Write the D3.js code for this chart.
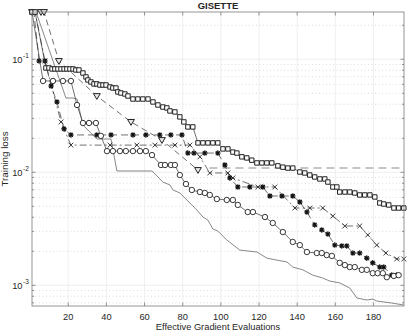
<!DOCTYPE html>
<html>
<head>
<meta charset="utf-8">
<script src="https://cdn.jsdelivr.net/npm/d3@7"></script>
<style>
  body { margin: 0; background: #fff; }
  text { font-family: "Liberation Sans", Arial, sans-serif; fill: #262626; }
</style>
</head>
<body>
<div id="chart"></div>
<script>
// ---- data ----
let xTicks = [20, 40, 60, 80, 100, 120, 140, 160, 180];
let yDecades = [-3, -2, -1];

// squares, solid line
let sqX = [1, 2.6, 8.3, 9.9, 11.5, 13, 14.6, 16.2, 17.8, 19.3, 20.9, 22.5, 24, 25.6, 27.7, 29.3, 30.3, 31.9, 33.5, 35, 36.6, 38.2, 39.8, 41.9, 43.4, 45, 46, 47.6, 49.7, 51.3, 53.9, 56.5, 59.1, 61.8, 64.4, 67, 69.6, 71.7, 73.3, 75.9, 78.5, 80.6, 82.7, 85.3, 88, 90.6, 93.2, 95.8, 98.4, 101.1, 103.7, 106.3, 108.4, 111, 113.6, 116.2, 118.9, 121.5, 124.1, 126.7, 129.9, 132.5, 135.1, 137.7, 141.4, 144, 146.6, 149.2, 151.9, 154.5, 156.1, 158.7, 160.8, 162.3, 165, 167.6, 170.2, 172.8, 175.4, 178.1, 180.7, 183.3, 185.4, 188, 190.7, 193.2, 195.9];
let sqY = [0.262, 0.262, 0.0838, 0.0838, 0.0821, 0.0821, 0.0821, 0.0821, 0.0821, 0.0821, 0.0821, 0.0821, 0.0804, 0.0804, 0.0756, 0.0697, 0.0656, 0.063, 0.0605, 0.0605, 0.0592, 0.0592, 0.0592, 0.0569, 0.0557, 0.0557, 0.0514, 0.0503, 0.0493, 0.0473, 0.0445, 0.0445, 0.0445, 0.0445, 0.0419, 0.0394, 0.0378, 0.0371, 0.0349, 0.0342, 0.0309, 0.0279, 0.0252, 0.0252, 0.0182, 0.0182, 0.0182, 0.0182, 0.0182, 0.0161, 0.0161, 0.0151, 0.0148, 0.0137, 0.0134, 0.0128, 0.0121, 0.0121, 0.0121, 0.0121, 0.0114, 0.0111, 0.0109, 0.0109, 0.01006, 0.00986, 0.00946, 0.00909, 0.00873, 0.00873, 0.0082, 0.00741, 0.00741, 0.00669, 0.00669, 0.00669, 0.00656, 0.0063, 0.0063, 0.0063, 0.00605, 0.00535, 0.00524, 0.00514, 0.00483, 0.00483, 0.00483];

// inverted triangles, dashed line
let triX = [1, 5.7, 7.3, 15.1, 35, 52.9, 69.1, 88];
let triY = [0.262, 0.262, 0.262, 0.0966, 0.0473, 0.0279, 0.0193, 0.01048];

// grey dashed reference level
let refX = [94, 195.9];
let refY = [0.0109, 0.0109];

// circles, solid line
let cirX = [1, 6.8, 12, 17.2, 21.4, 24.6, 27.7, 30.9, 34.5, 37.1, 40.3, 43.4, 47.1, 50.2, 53.9, 57.6, 60.7, 63.9, 68.6, 70.7, 73.8, 75.9, 78.5, 81.7, 84.8, 89, 91.6, 94.2, 97.9, 103.1, 106.3, 108.9, 114.1, 116.8, 123.1, 127.2, 132.5, 137.7, 141.4, 145.1, 150.3, 152.9, 155.5, 158.2, 162.3, 165, 167.6, 170.2, 173.9, 176.5, 179.6, 182.2, 184.9, 187, 190.7, 193.2];
let cirY = [0.262, 0.0643, 0.0643, 0.0643, 0.0643, 0.0394, 0.0273, 0.0273, 0.0273, 0.021, 0.0154, 0.0154, 0.0154, 0.0154, 0.0154, 0.0154, 0.0154, 0.0142, 0.0116, 0.0116, 0.0116, 0.0116, 0.00946, 0.00788, 0.00697, 0.00669, 0.00656, 0.0063, 0.0058, 0.00569, 0.00569, 0.00514, 0.00445, 0.00445, 0.00402, 0.00356, 0.00296, 0.00242, 0.00227, 0.00197, 0.00193, 0.00193, 0.00185, 0.00182, 0.00158, 0.00151, 0.00145, 0.00145, 0.00137, 0.00137, 0.00128, 0.00128, 0.00128, 0.00118, 0.00121, 0.00123];

// asterisks, dashed line
let astX = [1, 2, 4.7, 7.8, 11, 14.1, 17.8, 21.4, 35, 42.4, 53.9, 60.7, 68, 73.8, 79.6, 82.7, 85.9, 91.6, 98.4, 102.1, 104.7, 108.9, 115.2, 122, 125.7, 132, 137.7, 141.4, 145.1, 149.2, 152.9, 156.1, 159.7, 163.4, 166, 169.2, 172.8, 176.5, 179.6, 183.3, 185.4, 189.6, 192.2];
let astY = [0.262, 0.262, 0.0966, 0.0966, 0.058, 0.0419, 0.0242, 0.0214, 0.0214, 0.0214, 0.0214, 0.0214, 0.0214, 0.0214, 0.0214, 0.0148, 0.0148, 0.0148, 0.0148, 0.0116, 0.00891, 0.00741, 0.00741, 0.00741, 0.00617, 0.00617, 0.00617, 0.00546, 0.00445, 0.00342, 0.00309, 0.00284, 0.00227, 0.00223, 0.00223, 0.00193, 0.00193, 0.00174, 0.00158, 0.00145, 0.00145, 0.00123, 0.00123];

// crosses, dash-dot line
let crsX = [1, 2.6, 7.8, 16.2, 21.4, 41.9, 56, 65.4, 75.9, 83.8, 89, 94.2, 103.7, 106.3, 119.4, 128.3, 138.8, 146.6, 153.4, 158.7, 165, 172.8, 177, 181.7, 186.5, 192.2, 195.9];
let crsY = [0.262, 0.262, 0.0966, 0.0279, 0.0174, 0.0174, 0.0174, 0.0174, 0.0174, 0.0174, 0.0137, 0.00986, 0.00986, 0.00891, 0.00741, 0.00741, 0.00483, 0.00483, 0.00483, 0.0041, 0.00335, 0.00335, 0.00279, 0.00227, 0.00193, 0.00171, 0.00171];

// plain solid line, no markers
let solX = [1, 3.1, 18.8, 22.5, 24.6, 27.7, 35, 42.4, 45.5, 63.9, 67, 69.6, 73.3, 74.9, 78.5, 82.2, 87.4, 90.6, 93.2, 95.8, 98.4, 103.1, 109.9, 118.9, 124.1, 129.4, 134.6, 137.7, 143, 148.2, 153.4, 157.1, 162.3, 167.6, 171.3, 176.5, 179.6, 181.7, 185.4, 189.6, 195.9];
let solY = [0.262, 0.262, 0.0454, 0.0454, 0.0445, 0.0262, 0.0197, 0.0197, 0.01027, 0.01027, 0.00909, 0.0082, 0.00772, 0.00697, 0.00656, 0.00569, 0.00464, 0.00402, 0.00378, 0.00315, 0.00302, 0.00252, 0.00205, 0.00197, 0.00174, 0.00167, 0.00161, 0.00145, 0.00137, 0.00123, 0.00116, 0.00109, 0.00105, 0.000946, 0.000772, 0.000741, 0.000756, 0.000726, 0.000712, 0.000697, 0.000669];

// ---- layout ----
let svgWidth = 407;
let svgHeight = 332;
let margin = { top: 12, right: 3, bottom: 26, left: 32 };
let width = svgWidth - margin.left - margin.right;
let height = svgHeight - margin.top - margin.bottom;

let svg = d3.select("#chart")
  .append("svg")
  .attr("width", svgWidth)
  .attr("height", svgHeight);

let chartGroup = svg.append("g")
  .attr("transform", `translate(${margin.left}, ${margin.top})`);

let xScale = d3.scaleLinear().domain([1, 196]).range([0, width]);
let yScale = d3.scaleLog().domain([0.000656, 0.262]).range([height, 0]);

// minor y values (2..9 x decade) inside the domain
let yMinor = [];
[-4, -3, -2, -1].forEach(e => {
  for (let k = 2; k <= 9; k++) {
    let v = k * Math.pow(10, e);
    if (v > yScale.domain()[0] && v < yScale.domain()[1]) yMinor.push(v);
  }
});
let yMajor = yDecades.map(e => Math.pow(10, e));

// grid
let grid = chartGroup.append("g");
grid.selectAll(".ymin").data(yMinor).enter().append("line")
  .attr("x1", 0).attr("x2", width)
  .attr("y1", d => yScale(d)).attr("y2", d => yScale(d))
  .attr("stroke", "#c4c4c4").attr("stroke-width", 0.6)
  .attr("stroke-dasharray", "1,2.5");
grid.selectAll(".xmaj").data(xTicks).enter().append("line")
  .attr("x1", d => xScale(d)).attr("x2", d => xScale(d))
  .attr("y1", 0).attr("y2", height)
  .attr("stroke", "#ebebeb").attr("stroke-width", 0.8);
grid.selectAll(".ymaj").data(yMajor).enter().append("line")
  .attr("x1", 0).attr("x2", width)
  .attr("y1", d => yScale(d)).attr("y2", d => yScale(d))
  .attr("stroke", "#ebebeb").attr("stroke-width", 0.8);

// series
let zip = (xs, ys) => xs.map((v, i) => [v, ys[i]]);
let line = d3.line().x(d => xScale(d[0])).y(d => yScale(d[1]));

let series = [
  { pts: zip(solX, solY), marker: null, dash: null, color: "#555", w: 0.7 },
  { pts: zip(refX, refY), marker: null, dash: "8,5", color: "#b3b3b3", w: 1.6 },
  { pts: zip(triX, triY), marker: "tri", dash: "6,4", color: "#333", w: 0.7 },
  { pts: zip(crsX, crsY), marker: "x", dash: "7,3,2,3", color: "#333", w: 0.7 },
  { pts: zip(astX, astY), marker: "ast", dash: "7,4", color: "#333", w: 0.7 },
  { pts: zip(cirX, cirY), marker: "o", dash: null, color: "#333", w: 0.7 },
  { pts: zip(sqX, sqY), marker: "sq", dash: null, color: "#333", w: 0.7 }
];

function markerPath(m) {
  if (m === "sq") return "M-2.2,-2.2h4.4v4.4h-4.4z";
  if (m === "tri") return "M-3.4,-2.4L3.4,-2.4L0,3.4Z";
  if (m === "x") return "M-2.4,-2.4L2.4,2.4M-2.4,2.4L2.4,-2.4";
  if (m === "ast") return "M-2.8,0H2.8M0,-2.8V2.8M-2,-2L2,2M-2,2L2,-2";
  return null;
}

series.forEach(s => {
  chartGroup.append("path")
    .datum(s.pts)
    .attr("d", line)
    .attr("fill", "none")
    .attr("stroke", s.color)
    .attr("stroke-width", s.w)
    .attr("stroke-dasharray", s.dash);

  if (!s.marker) return;
  let g = chartGroup.append("g");
  let sel = g.selectAll("g").data(s.pts).enter().append("g")
    .attr("transform", d => `translate(${xScale(d[0])},${yScale(d[1])})`);
  if (s.marker === "o") {
    sel.append("circle").attr("r", 2.7)
      .attr("fill", "#fff").attr("stroke", "#222").attr("stroke-width", 0.9);
  } else if (s.marker === "ast") {
    sel.append("circle").attr("r", 1.4).attr("fill", "#111");
    sel.append("path").attr("d", markerPath("ast"))
      .attr("stroke", "#111").attr("stroke-width", 1.1);
  } else if (s.marker === "x") {
    sel.append("path").attr("d", markerPath("x"))
      .attr("stroke", "#222").attr("stroke-width", 0.9);
  } else {
    sel.append("path").attr("d", markerPath(s.marker))
      .attr("fill", s.marker === "tri" ? "#e8e8e8" : "#fff")
      .attr("stroke", "#222").attr("stroke-width", 1);
  }
});

// axes box and ticks
let axisColor = "#7a7a7a";
chartGroup.append("rect")
  .attr("width", width).attr("height", height)
  .attr("fill", "none").attr("stroke", axisColor).attr("stroke-width", 0.8);

let ticks = chartGroup.append("g").attr("stroke", axisColor).attr("stroke-width", 0.8);
xTicks.forEach(t => {
  ticks.append("line").attr("x1", xScale(t)).attr("x2", xScale(t)).attr("y1", height).attr("y2", height - 3.5);
  ticks.append("line").attr("x1", xScale(t)).attr("x2", xScale(t)).attr("y1", 0).attr("y2", 3.5);
});
yMajor.forEach(t => {
  ticks.append("line").attr("x1", 0).attr("x2", 3.5).attr("y1", yScale(t)).attr("y2", yScale(t));
  ticks.append("line").attr("x1", width).attr("x2", width - 3.5).attr("y1", yScale(t)).attr("y2", yScale(t));
});
yMinor.forEach(t => {
  ticks.append("line").attr("x1", 0).attr("x2", 2).attr("y1", yScale(t)).attr("y2", yScale(t));
  ticks.append("line").attr("x1", width).attr("x2", width - 2).attr("y1", yScale(t)).attr("y2", yScale(t));
});

// tick labels
chartGroup.selectAll(".xlab").data(xTicks).enter().append("text")
  .attr("x", d => xScale(d)).attr("y", height + 14)
  .attr("text-anchor", "middle").attr("font-size", "9.3px")
  .text(d => d);

yDecades.forEach(e => {
  let yy = yScale(Math.pow(10, e));
  chartGroup.append("text")
    .attr("x", -9.5).attr("y", yy + 3.5)
    .attr("text-anchor", "end").attr("font-size", "9.3px")
    .text("10");
  chartGroup.append("text")
    .attr("x", -9).attr("y", yy - 1)
    .attr("text-anchor", "start").attr("font-size", "6.5px")
    .text(String(e));
});

// title and axis labels
svg.append("text")
  .attr("x", margin.left + width / 2).attr("y", 9)
  .attr("text-anchor", "middle").attr("font-size", "9.5px").attr("font-weight", "bold")
  .attr("fill", "#111")
  .text("GISETTE");

svg.append("text")
  .attr("x", margin.left + width / 2).attr("y", 330)
  .attr("text-anchor", "middle").attr("font-size", "9.3px")
  .text("Effective Gradient Evaluations");

svg.append("text")
  .attr("transform", `translate(7.5, ${margin.top + height / 2}) rotate(-90)`)
  .attr("text-anchor", "middle").attr("font-size", "9.8px")
  .text("Training loss");
</script>
</body>
</html>
